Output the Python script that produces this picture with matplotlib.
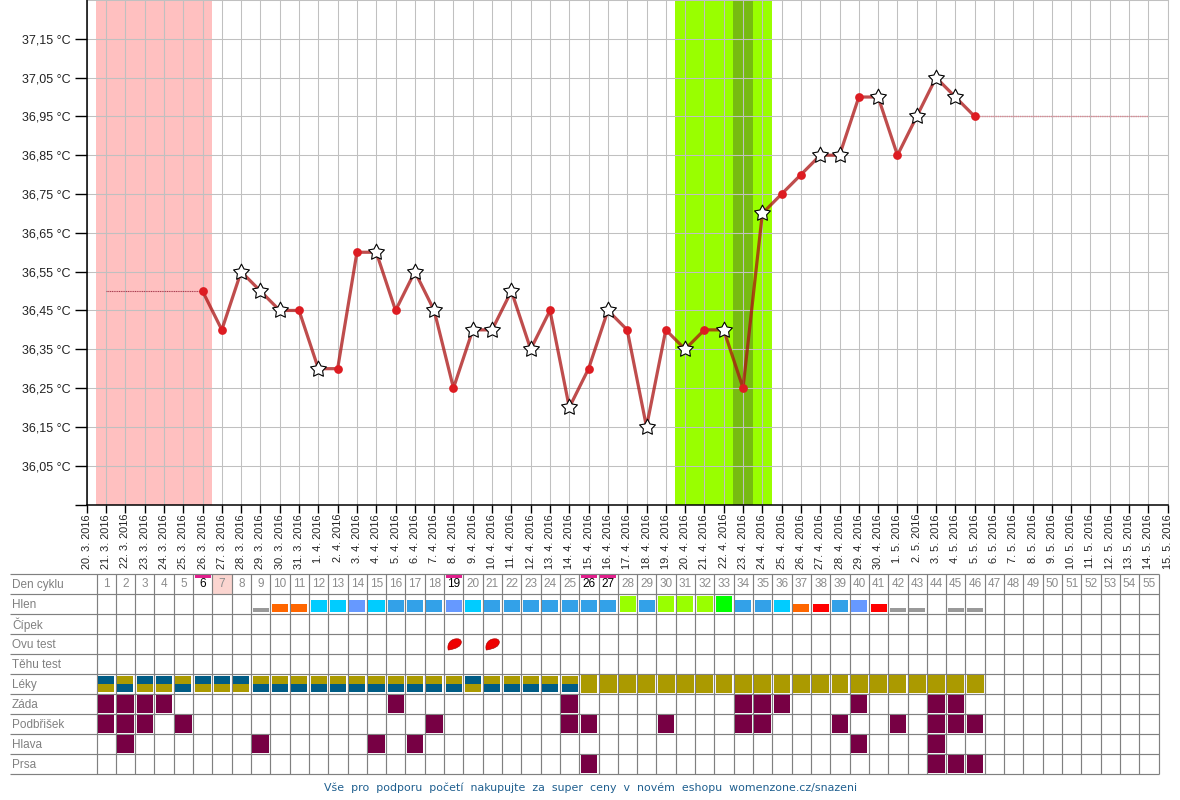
#!/usr/bin/env python3
import matplotlib
matplotlib.use('Agg')
import matplotlib.pyplot as plt
from matplotlib.path import Path

plt.rcParams['font.family'] = ['Liberation Sans', 'DejaVu Sans']

W, H = 1180, 800

# chart data
date_labels = [
    '20. 3. 2016', '21. 3. 2016', '22. 3. 2016', '23. 3. 2016', '24. 3. 2016', '25. 3. 2016',
    '26. 3. 2016', '27. 3. 2016', '28. 3. 2016', '29. 3. 2016', '30. 3. 2016', '31. 3. 2016',
    '1. 4. 2016', '2. 4. 2016', '3. 4. 2016', '4. 4. 2016', '5. 4. 2016', '6. 4. 2016',
    '7. 4. 2016', '8. 4. 2016', '9. 4. 2016', '10. 4. 2016', '11. 4. 2016', '12. 4. 2016',
    '13. 4. 2016', '14. 4. 2016', '15. 4. 2016', '16. 4. 2016', '17. 4. 2016', '18. 4. 2016',
    '19. 4. 2016', '20. 4. 2016', '21. 4. 2016', '22. 4. 2016', '23. 4. 2016', '24. 4. 2016',
    '25. 4. 2016', '26. 4. 2016', '27. 4. 2016', '28. 4. 2016', '29. 4. 2016', '30. 4. 2016',
    '1. 5. 2016', '2. 5. 2016', '3. 5. 2016', '4. 5. 2016', '5. 5. 2016', '6. 5. 2016',
    '7. 5. 2016', '8. 5. 2016', '9. 5. 2016', '10. 5. 2016', '11. 5. 2016', '12. 5. 2016',
    '13. 5. 2016', '14. 5. 2016', '15. 5. 2016',
]
temp_ticks = [36.05, 36.15, 36.25, 36.35, 36.45, 36.55, 36.65, 36.75, 36.85, 36.95, 37.05, 37.15]

# temperatures measured from 26.3. to 5.5. (one per day, index 6 on the date axis)
first_temp_day = 6
temps = [36.50, 36.40, 36.55, 36.50, 36.45, 36.45, 36.30, 36.30, 36.60, 36.60, 36.45,
         36.55, 36.45, 36.25, 36.40, 36.40, 36.50, 36.35, 36.45, 36.20, 36.30, 36.45,
         36.40, 36.15, 36.40, 36.35, 36.40, 36.40, 36.25, 36.70, 36.75, 36.80, 36.85,
         36.85, 37.00, 37.00, 36.85, 36.95, 37.05, 37.00, 36.95]
star_flags = [0, 0, 1, 1, 1, 0, 1, 0, 0, 1, 0,
              1, 1, 0, 1, 1, 1, 1, 0, 1, 0, 1,
              0, 1, 0, 1, 0, 1, 0, 1, 0, 0, 1,
              1, 0, 1, 0, 1, 1, 1, 0]
guide_before = (1, 6, 36.50)
guide_after = (46, 55, 36.95)

# table data, by cycle day
row_names = ['Den cyklu', 'Hlen', 'Čípek', 'Ovu test', 'Těhu test', 'Léky', 'Záda', 'Podbřišek', 'Hlava', 'Prsa']
n_cycle_days = 55
marked_days = [6, 19, 26, 27]
pink_day = 7
hlen_days = [9, 10, 11, 12, 13, 14, 15, 16, 17, 18, 19, 20, 21, 22, 23, 24, 25, 26, 27, 28, 29, 30, 31,
             32, 33, 34, 35, 36, 37, 38, 39, 40, 41, 42, 43, 45, 46]
hlen_types = ['g', 'o', 'o', 'c', 'c', 'p', 'c', 'b', 'b', 'b', 'p', 'c', 'b', 'b', 'b', 'b', 'b', 'b', 'b',
              'l', 'b', 'l', 'l', 'l', 'n', 'b', 'b', 'c', 'o', 'r', 'b', 'p', 'r', 'g', 'g', 'g', 'g']
ovu_days = [19, 21]
leky_blue_top = [1, 3, 4, 6, 7, 8, 20]
leky_olive_top = [2, 5, 9, 10, 11, 12, 13, 14, 15, 16, 17, 18, 19, 21, 22, 23, 24, 25]
leky_olive_full = list(range(26, 47))
zada_days = [1, 2, 3, 4, 16, 25, 34, 35, 36, 40, 44, 45]
podbrisek_days = [1, 2, 3, 5, 18, 25, 26, 30, 34, 35, 39, 42, 44, 45, 46]
hlava_days = [2, 9, 15, 17, 40, 44]
prsa_days = [26, 44, 45, 46]

hlen_colors = {'g': '#999999', 'o': '#ff6600', 'r': '#ff0000', 'c': '#00ccff', 'b': '#33a1e8',
               'p': '#6699ff', 'l': '#99ff00', 'n': '#00ff00'}
hlen_heights = {'g': 0.2, 'o': 0.4, 'r': 0.4, 'c': 0.6, 'b': 0.6, 'p': 0.6, 'l': 0.8, 'n': 0.8}
OLIVE = '#ab9a00'
NAVY = '#005c85'
PURPLE = '#770044'

# pixel layout helper
def px_axes(fig, left, top, right, bottom):
    return fig.add_axes([left / W, 1 - bottom / H, (right - left) / W, (bottom - top) / H])

fig = plt.figure(figsize=(W / 100, H / 100), dpi=100, facecolor='white')

# temperature chart
ax = px_axes(fig, 86.7, 0, 1167.7, 504.5)
ax.set_xlim(0, len(date_labels) - 1)
ax.set_ylim(35.95, 37.25)
ax.axvspan(0.5, 6.5, color='#ffc0c0', lw=0, zorder=1)
ax.axvspan(30.5, 35.5, color='#99ff00', lw=0, zorder=1)
ax.axvspan(33.5, 34.5, color='#77bb11', lw=0, zorder=1.1)

ax.set_xticks(range(len(date_labels)))
ax.set_xticklabels(date_labels, rotation=90, fontsize=7.9, color='#222222', va='top', ha='center')
ax.set_yticks([35.95] + temp_ticks)
ax.set_yticklabels([''] + [f'{t:.2f} °C'.replace('.', ',') for t in temp_ticks], fontsize=9, color='#222222')
ax.tick_params(axis='x', length=5.8, width=1, pad=1)
ax.tick_params(axis='y', length=8.6, width=1, pad=2.8)
ax.grid(True, color='#c0c0c0', lw=0.75, zorder=2)
ax.set_axisbelow(False)
for s in ['top', 'right']:
    ax.spines[s].set_color('#c0c0c0')
    ax.spines[s].set_linewidth(0.75)
for s in ['left', 'bottom']:
    ax.spines[s].set_linewidth(1.1)
    ax.spines[s].set_zorder(10)

# grid looks paler on the green band, greyer on the pink one
ax.vlines(range(31, 36), 35.95, 37.25, color='#c6ee80', lw=0.75, zorder=2.5)
ax.hlines([35.95 + 0.1 * i for i in range(1, 13)], 30.5, 35.5, color='#c6ee80', lw=0.75, zorder=2.5)
ax.vlines(range(1, 7), 35.95, 37.25, color='#d0a8a8', lw=0.75, zorder=2.5)
ax.hlines([35.95 + 0.1 * i for i in range(1, 13)], 0.5, 6.5, color='#d0a8a8', lw=0.75, zorder=2.5)

days = [first_temp_day + i for i in range(len(temps))]
ax.plot([guide_before[0], guide_before[1]], [guide_before[2]] * 2, color='#a83c50', lw=0.8, ls=(0, (1, 0.6)), zorder=3)
ax.plot([guide_after[0], guide_after[1]], [guide_after[2]] * 2, color='#d88a94', lw=1.0, ls=(0, (1, 0.6)), zorder=3)
ax.plot(days, temps, color='#aa1111', lw=2.3, alpha=0.75, zorder=4, solid_joinstyle='round')
ax.plot([d for d, s in zip(days, star_flags) if not s], [t for t, s in zip(temps, star_flags) if not s],
        'o', color='#dd1c22', ms=6.3, mew=0, zorder=5)
star = Path.unit_regular_star(5, innerCircle=0.52)
ax.plot([d for d, s in zip(days, star_flags) if s], [t for t, s in zip(temps, star_flags) if s],
        marker=star, ls='none', mfc='white', mec='black', ms=12, mew=0.8, zorder=6)

# table of symptoms
col_px = 19.31
table_left = 10
tb = px_axes(fig, table_left, 574, 96.5 + n_cycle_days * col_px, 774)
left_units = -(96.5 - table_left) / col_px
tb.set_xlim(left_units, n_cycle_days)
tb.set_ylim(len(row_names), 0)
tb.axis('off')

tb.bar([pink_day - 0.5], [1], bottom=[0], width=1, color='#fbd5d0', lw=0, zorder=1)
GRID = '#808080'
tb.vlines(range(0, n_cycle_days + 1), 0, len(row_names), color=GRID, lw=0.85, zorder=2, clip_on=False)
tb.hlines(range(0, len(row_names) + 1), left_units, n_cycle_days, color=GRID, lw=0.85, zorder=2, clip_on=False)

for i, name in enumerate(row_names):
    tb.text(left_units + 0.1, i + 0.53, name, color='#808080', fontsize=8.5, ha='left', va='center')
for d in range(1, n_cycle_days + 1):
    tb.text(d - 0.5, 0.5, str(d), color='black' if d in marked_days else '#8c8c8c',
            fontsize=8.5, ha='center', va='center', zorder=4)
tb.bar([d - 0.5 for d in marked_days], [0.15], bottom=[0.07] * len(marked_days), width=0.83, color='#e01f8c', lw=0, zorder=3)

BAR_W = 0.83
tb.bar([d - 0.5 for d in hlen_days], [-hlen_heights[t] for t in hlen_types],
       bottom=[1.88] * len(hlen_days), width=BAR_W, color=[hlen_colors[t] for t in hlen_types], lw=0, zorder=3)

# ovulation test drop drawn as a custom marker
drop = Path([(-1, -0.9), (-1.25, -0.1), (-0.8, 0.75), (0.1, 0.9), (0.6, 0.98), (1.1, 0.9), (1.1, 0.35),
             (1.05, -0.3), (0.3, -0.7), (-1, -0.9)],
            [Path.MOVETO, Path.CURVE4, Path.CURVE4, Path.CURVE4, Path.CURVE4, Path.CURVE4, Path.CURVE4,
             Path.CURVE4, Path.CURVE4, Path.CURVE4])
tb.scatter([d - 0.5 for d in ovu_days], [3.5] * len(ovu_days), marker=drop, s=125, color='#ee0000',
           edgecolors='#a00000', linewidths=0.4, zorder=3)

LEKY = 5
tb.bar([d - 0.5 for d in leky_blue_top], [0.4] * len(leky_blue_top), bottom=[LEKY + 0.08] * len(leky_blue_top), width=BAR_W, color=NAVY, lw=0, zorder=3)
tb.bar([d - 0.5 for d in leky_blue_top], [0.43] * len(leky_blue_top), bottom=[LEKY + 0.48] * len(leky_blue_top), width=BAR_W, color=OLIVE, lw=0, zorder=3)
tb.bar([d - 0.5 for d in leky_olive_top], [0.4] * len(leky_olive_top), bottom=[LEKY + 0.08] * len(leky_olive_top), width=BAR_W, color=OLIVE, lw=0, zorder=3)
tb.bar([d - 0.5 for d in leky_olive_top], [0.43] * len(leky_olive_top), bottom=[LEKY + 0.48] * len(leky_olive_top), width=BAR_W, color=NAVY, lw=0, zorder=3)
tb.bar([d - 0.5 for d in leky_olive_full], [0.87] * len(leky_olive_full), bottom=[LEKY + 0.06] * len(leky_olive_full), width=0.87, color=OLIVE, lw=0, zorder=3)

for row, row_days in zip([6, 7, 8, 9], [zada_days, podbrisek_days, hlava_days, prsa_days]):
    tb.bar([d - 0.5 for d in row_days], [0.87] * len(row_days), bottom=[row + 0.07] * len(row_days),
           width=0.85, color=PURPLE, lw=0, zorder=3)

fig.text(590.5 / W, 1 - 788 / H, 'Vše  pro  podporu  početí  nakupujte  za  super  ceny  v  novém  eshopu  womenzone.cz/snazeni',
         family='DejaVu Sans', color='#1f5f8f', fontsize=7.9, ha='center', va='center')

fig.savefig('out.png', dpi=100)
